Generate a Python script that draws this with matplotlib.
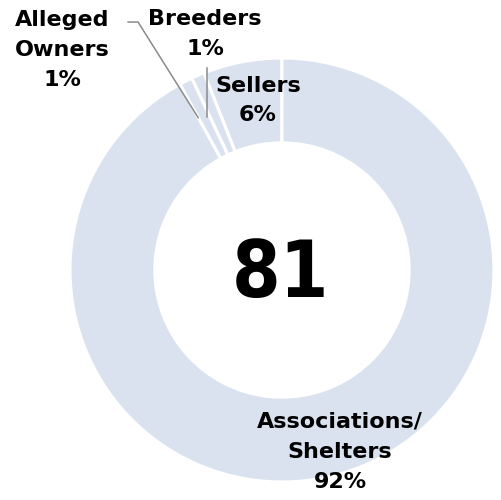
import numpy as np
import matplotlib
matplotlib.use("Agg")
import matplotlib.pyplot as plt

# data
categories = ["Sellers", "Breeders", "Alleged\nOwners", "Associations/\nShelters"]
shares = [6, 1, 1, 92]
total_cases = 81

ring_color = "#dbe2ef"
line_color = "#8a8a8a"

plt.rcParams['font.family'] = ['DejaVu Sans']

fig = plt.figure(figsize=(5.01, 5.00), dpi=100)
ax = fig.add_axes([0, 0, 1, 1])

wedges, _ = ax.pie(shares, startangle=90, counterclock=True,
                   colors=[ring_color] * len(shares),
                   wedgeprops=dict(width=0.4, edgecolor="white", linewidth=2.2))

ax.set_xlim(-1.330, 1.033)
ax.set_ylim(-1.085, 1.274)
ax.set_aspect("equal")
ax.axis("off")

# center number
ax.text(-0.005, -0.025, str(total_cases), ha="center", va="center",
        fontsize=56, fontweight="bold", fontstretch="condensed", color="black")

lab_kw = dict(ha="center", va="center", fontsize=16, fontweight="bold",
              color="black", linespacing=1.62)

# Sellers, inside the ring
ax.text(-0.113, 0.80, f"{categories[0]}\n{shares[0]}%", **lab_kw)
# Associations/Shelters, lower ring
ax.text(0.274, -0.858, f"{categories[3]}\n{shares[3]}%", **lab_kw)
# Breeders, above with vertical leader
ax.text(-0.363, 1.113, f"{categories[1]}\n{shares[1]}%", **lab_kw)
# Alleged Owners, top-left with bent leader
ax.text(-1.038, 1.038, f"{categories[2]}\n{shares[2]}%", **lab_kw)

# leader lines from wedge edges
def edge_point(angle, r):
    a = np.deg2rad(angle)
    return r * np.cos(a), r * np.sin(a)

bx, by = edge_point(wedges[1].theta2, 0.80)
ax.plot([bx - 0.012, bx - 0.012], [by, 0.953], color=line_color, lw=1.1)

ox, oy = edge_point(wedges[2].theta2, 0.82)
ax.plot([ox, -0.679, -0.726], [oy, 1.17, 1.17], color=line_color, lw=1.1)

fig.savefig("out.png", dpi=100, facecolor="white")
